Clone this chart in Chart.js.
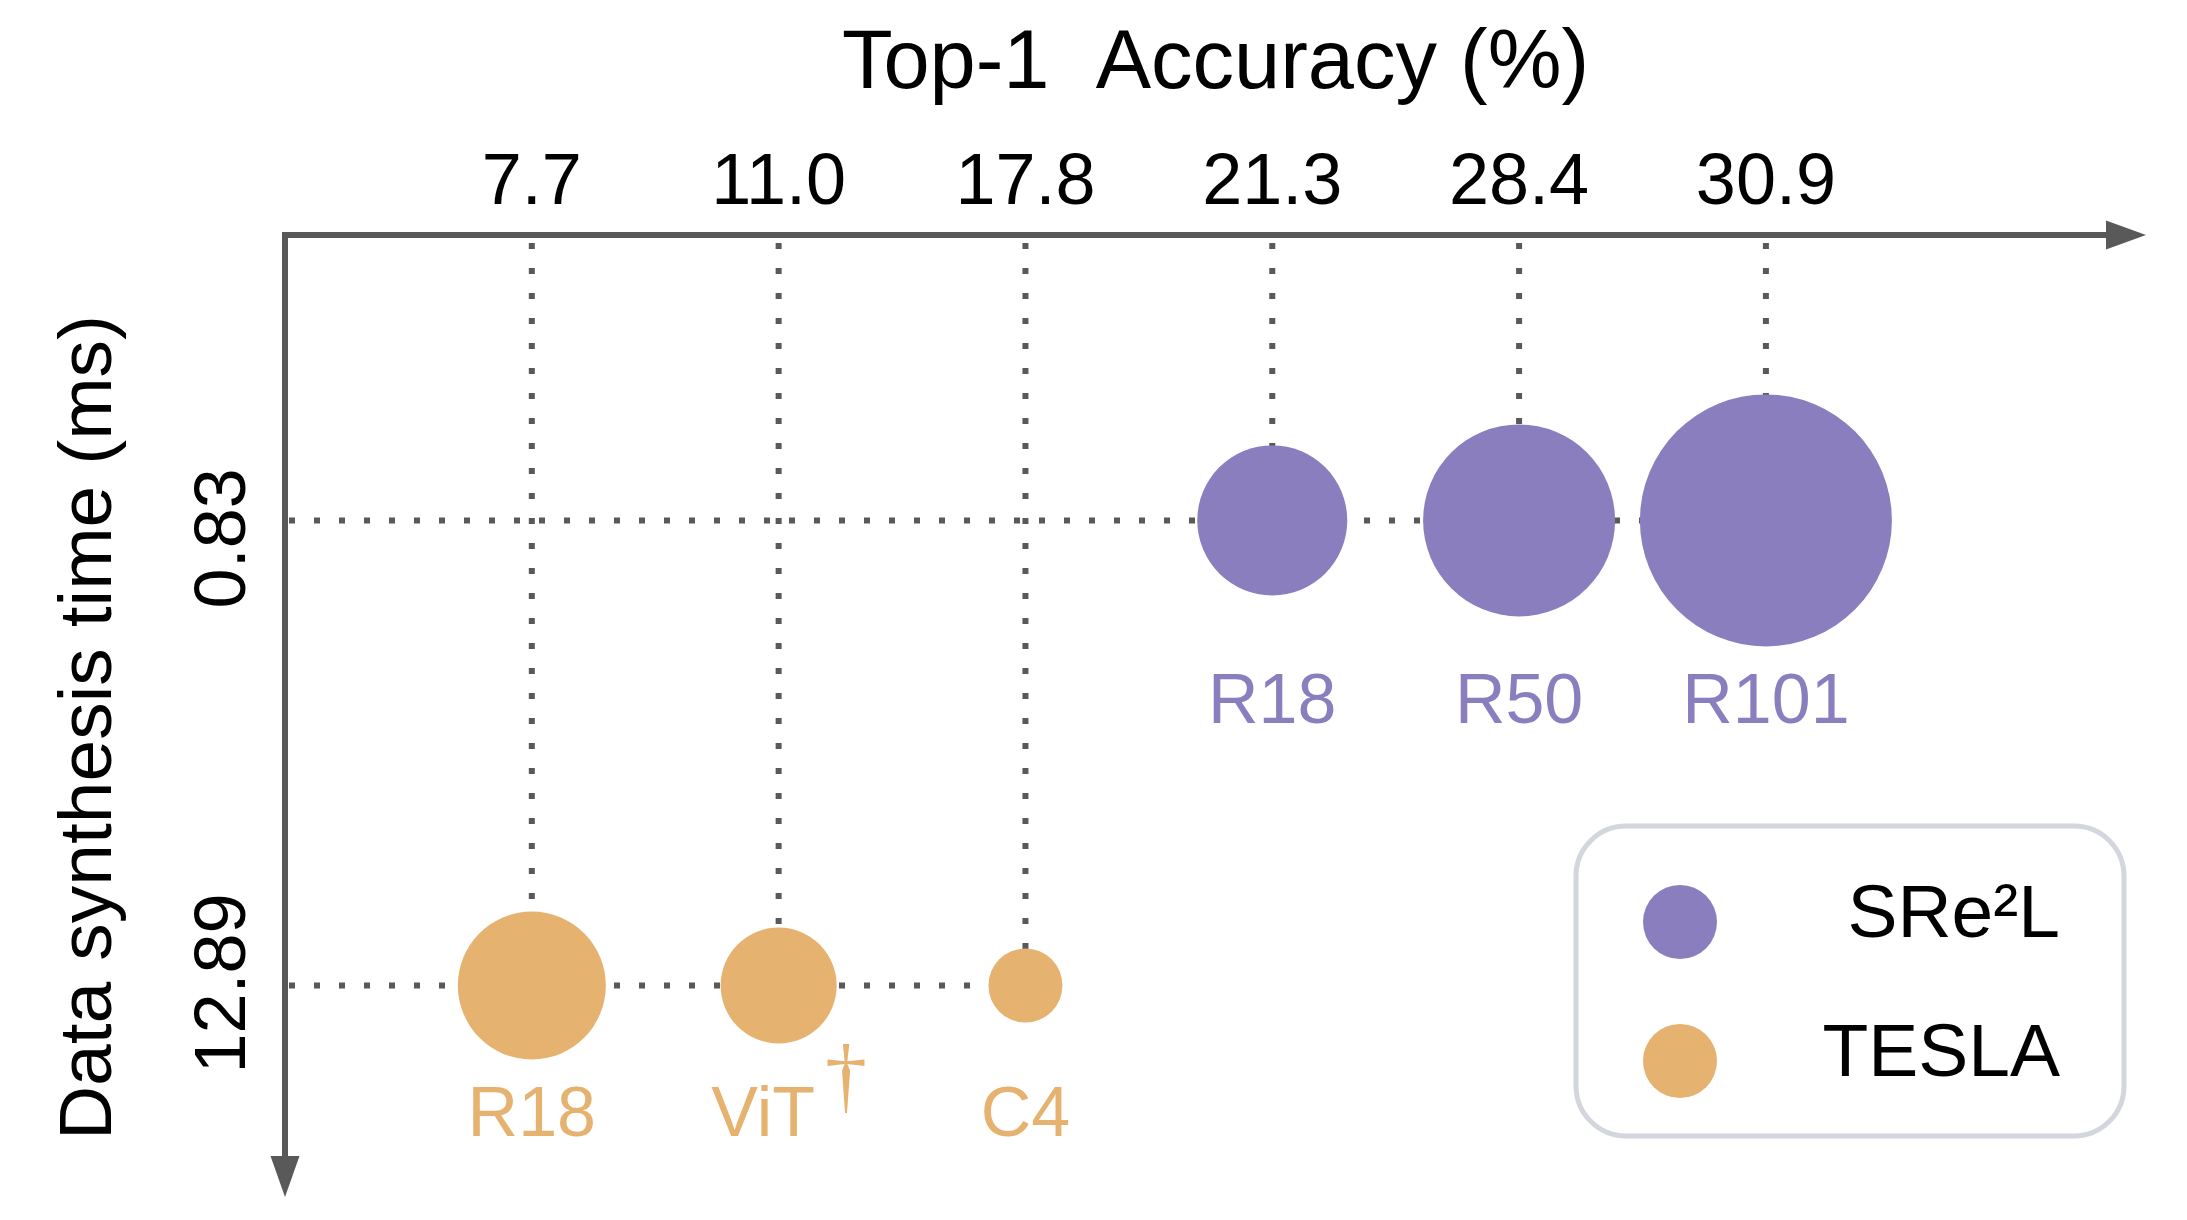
<!DOCTYPE html>
<html>
<head>
<meta charset="utf-8">
<script src="https://cdn.jsdelivr.net/npm/chart.js@4.4.1/dist/chart.umd.min.js"></script>
<style>
  html, body { margin: 0; padding: 0; background: #fff; }
  canvas { display: block; }
</style>
</head>
<body>
<canvas id="bubbleChart" width="2187" height="1220"></canvas>
<script>
// accuracy (top axis) vs data synthesis time (left axis), bubble = model size
const accuracyTicks = [7.7, 11.0, 17.8, 21.3, 28.4, 30.9];
const timeTicks = [0.83, 12.89];

const sreModels = ['R18', 'R50', 'R101'];
const sreAccuracy = [21.3, 28.4, 30.9];
const sreTime = [0.83, 0.83, 0.83];
const sreRadius = [75, 96, 126];

const teslaModels = ['R18', 'ViT†', 'C4'];
const teslaAccuracy = [7.7, 11.0, 17.8];
const teslaTime = [12.89, 12.89, 12.89];
const teslaRadius = [74, 58, 37];

const FONT = "'Liberation Sans', Arial, Helvetica, sans-serif";
const PURPLE = '#8A7EBF';
const ORANGE = '#E5B270';
const GREY = '#595959';

function toPoints(acc, time, radius) {
  return acc.map((a, i) => ({ x: accuracyTicks.indexOf(a), y: time[i], r: radius[i] }));
}

const decorPlugin = {
  id: 'decor',
  beforeDatasetsDraw(chart) {
    const { ctx, chartArea, scales: { x, y } } = chart;
    ctx.save();
    ctx.strokeStyle = GREY;
    ctx.lineWidth = 6;
    ctx.setLineDash([6, 19]);
    chart.data.datasets.forEach(ds => {
      ds.data.forEach(p => {
        const px = x.getPixelForValue(p.x);
        ctx.beginPath();
        ctx.moveTo(px, chartArea.top + 8);
        ctx.lineTo(px, y.getPixelForValue(p.y));
        ctx.stroke();
      });
      const last = ds.data[ds.data.length - 1];
      const py = y.getPixelForValue(last.y);
      ctx.beginPath();
      ctx.moveTo(chartArea.left + 4, py);
      ctx.lineTo(x.getPixelForValue(last.x), py);
      ctx.stroke();
    });
    ctx.restore();
  },
  afterDatasetsDraw(chart) {
    const { ctx, chartArea, scales: { x, y } } = chart;
    const { left, top, right } = chartArea;
    ctx.save();

    // axes with arrow heads
    const tipY = chart.height - 23;
    ctx.strokeStyle = GREY;
    ctx.fillStyle = GREY;
    ctx.lineWidth = 6;
    ctx.beginPath();
    ctx.moveTo(left - 3, top);
    ctx.lineTo(right - 38, top);
    ctx.moveTo(left, top - 3);
    ctx.lineTo(left, tipY - 38);
    ctx.stroke();
    ctx.beginPath();
    ctx.moveTo(right, top);
    ctx.lineTo(right - 40, top - 14.5);
    ctx.lineTo(right - 40, top + 14.5);
    ctx.closePath();
    ctx.fill();
    ctx.beginPath();
    ctx.moveTo(left, tipY);
    ctx.lineTo(left - 14.5, tipY - 41);
    ctx.lineTo(left + 14.5, tipY - 41);
    ctx.closePath();
    ctx.fill();

    // rotated y tick labels
    ctx.fillStyle = '#000';
    ctx.font = '72px ' + FONT;
    timeTicks.forEach(v => {
      ctx.save();
      ctx.translate(left - 60, y.getPixelForValue(v) + 88);
      ctx.rotate(-Math.PI / 2);
      ctx.textAlign = 'left';
      ctx.textBaseline = 'middle';
      ctx.fillText(v.toString(), 0, 0);
      ctx.restore();
    });

    // model names under the bubbles
    chart.data.datasets.forEach(ds => {
      const maxR = Math.max(...ds.data.map(p => p.r));
      ctx.fillStyle = ds.backgroundColor;
      ds.data.forEach((p, i) => {
        const px = x.getPixelForValue(p.x);
        const ly = y.getPixelForValue(p.y) + maxR + 57;
        let name = ds.models[i];
        ctx.font = '70px ' + FONT;
        ctx.textBaseline = 'middle';
        if (name.endsWith('†')) {
          name = name.slice(0, -1);
          const w = ctx.measureText(name).width;
          const gap = 31;
          const x0 = px - (w + gap) / 2;
          ctx.textAlign = 'left';
          ctx.fillText(name, x0, ly);
          ctx.font = "84px 'Liberation Serif', 'DejaVu Serif', serif";
          ctx.textAlign = 'center';
          ctx.textBaseline = 'alphabetic';
          ctx.fillText('†', x0 + w + gap, ly - 14);
        } else {
          ctx.textAlign = 'center';
          ctx.fillText(name, px, ly);
        }
      });
    });

    // legend
    const bx = 1576, by = 826, bw = 548, bh = 310, rad = 50;
    ctx.strokeStyle = '#D3D6DC';
    ctx.lineWidth = 5;
    ctx.beginPath();
    ctx.roundRect(bx, by, bw, bh, rad);
    ctx.stroke();
    const rows = [922, 1061];
    chart.data.datasets.forEach((ds, i) => {
      ctx.fillStyle = ds.backgroundColor;
      ctx.beginPath();
      ctx.arc(1680, rows[i], 37, 0, Math.PI * 2);
      ctx.fill();
      ctx.fillStyle = '#000';
      ctx.font = '75px ' + FONT;
      ctx.textAlign = 'right';
      ctx.textBaseline = 'middle';
      ctx.fillText(ds.label, 2060, rows[i] - 6);
    });
    ctx.restore();
  }
};

new Chart(document.getElementById('bubbleChart'), {
  type: 'bubble',
  data: {
    datasets: [
      {
        label: 'SRe²L',
        models: sreModels,
        data: toPoints(sreAccuracy, sreTime, sreRadius),
        backgroundColor: PURPLE,
        borderWidth: 0,
        hoverRadius: 0
      },
      {
        label: 'TESLA',
        models: teslaModels,
        data: toPoints(teslaAccuracy, teslaTime, teslaRadius),
        backgroundColor: ORANGE,
        borderWidth: 0,
        hoverRadius: 0
      }
    ]
  },
  options: {
    responsive: false,
    animation: false,
    events: [],
    layout: { autoPadding: false, padding: { top: 11, left: 41, right: 41, bottom: 0 } },
    plugins: {
      legend: { display: false },
      tooltip: { enabled: false }
    },
    scales: {
      x: {
        type: 'linear',
        position: 'top',
        min: -1,
        max: 6.54,
        afterBuildTicks: scale => {
          scale.ticks = accuracyTicks.map((_, i) => ({ value: i }));
        },
        ticks: {
          callback: v => accuracyTicks[v].toFixed(1),
          font: { size: 72, family: FONT },
          color: '#000',
          padding: 8,
          maxRotation: 0,
          autoSkip: false
        },
        grid: { display: false, drawTicks: false },
        border: { display: false },
        title: {
          display: true,
          text: 'Top-1  Accuracy (%)',
          font: { size: 83, family: FONT },
          color: '#000',
          padding: { top: 4, bottom: 18 }
        }
      },
      y: {
        type: 'linear',
        reverse: true,
        min: -6.57,
        max: 18.97,
        ticks: { display: false },
        grid: { display: false, drawTicks: false },
        border: { display: false },
        title: {
          display: true,
          text: 'Data synthesis time (ms)',
          font: { size: 75, family: FONT },
          color: '#000',
          padding: { top: 4, bottom: 150 }
        }
      }
    }
  },
  plugins: [decorPlugin]
});
</script>
</body>
</html>
